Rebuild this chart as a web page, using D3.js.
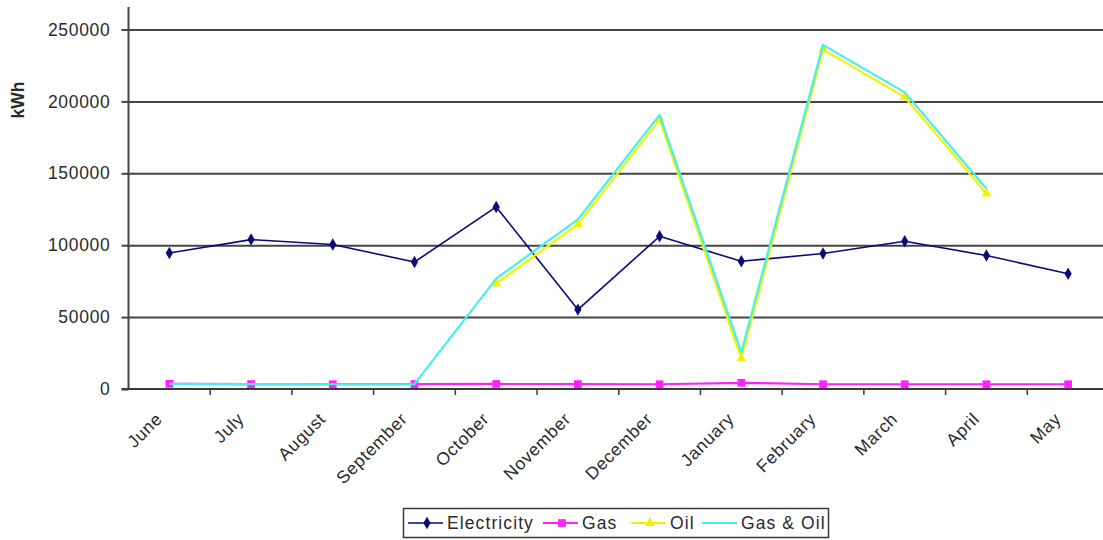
<!DOCTYPE html>
<html>
<head>
<meta charset="utf-8">
<script src="https://cdn.jsdelivr.net/npm/d3@7"></script>
<style>
  html, body { margin: 0; padding: 0; background: #fff; }
  svg { display: block; }
  text { font-family: "Liberation Sans", Arial, sans-serif; fill: #2a2a2a; }
</style>
</head>
<body>
<svg id="chart" width="1103" height="540"></svg>
<script>
// Monthly energy use, kWh
const months = ["June", "July", "August", "September", "October", "November",
                "December", "January", "February", "March", "April", "May"];
const electricity = [94600, 103900, 100500, 88300, 126600, 55200, 106200, 88800, 94200, 102700, 92800, 80200];
const gas = [3600, 3400, 3300, 3400, 3500, 3400, 3300, 4300, 3300, 3300, 3300, 3300];
const oil = [null, null, null, null, 73300, 114500, 187300, 21100, 236000, 203000, 135900, null];
const gasAndOil = [3600, 3400, 3300, 3400, 76800, 117900, 190600, 25400, 239300, 206300, 139200, null];
const yTicks = [0, 50000, 100000, 150000, 200000, 250000];
const seriesNames = ["Electricity", "Gas", "Oil", "Gas & Oil"];

const svg = d3.select("#chart");
const W = 1103;
const plotLeft = 128.5, plotRight = 1109, plotTop = 29.5, plotBottom = 389;
const FONT = 17.5;
const LS = 0.7;

const x = d3.scaleBand().domain(months).range([plotLeft, plotRight]).paddingInner(0).paddingOuter(0);
const cx = m => x(m) + x.bandwidth() / 2;
const y = d3.scaleLinear().domain([0, 250000]).range([plotBottom, plotTop]);

// horizontal gridlines
const grid = svg.append("g")
  .attr("transform", `translate(${plotLeft},0)`)
  .call(d3.axisLeft(y).tickValues(yTicks.filter(v => v > 0)).tickSize(-(W - plotLeft)).tickFormat(""));
grid.select(".domain").remove();
grid.selectAll("line").attr("stroke", "#444").attr("stroke-width", 2);

// y axis
const yAxis = svg.append("g")
  .attr("transform", `translate(${plotLeft},0)`)
  .call(d3.axisLeft(y).tickValues(yTicks).tickSize(7).tickPadding(11).tickFormat(d3.format("d")));
yAxis.select(".domain").remove();
yAxis.selectAll("line").attr("stroke", "#444").attr("stroke-width", 2);
yAxis.selectAll("text")
  .attr("font-size", FONT).attr("letter-spacing", LS).style("fill", "#2a2a2a");
svg.append("line")
  .attr("x1", plotLeft).attr("x2", plotLeft).attr("y1", 7).attr("y2", plotBottom)
  .attr("stroke", "#444").attr("stroke-width", 2);

// x axis line and tick marks at category boundaries
svg.append("line")
  .attr("x1", plotLeft - 7).attr("x2", W).attr("y1", plotBottom).attr("y2", plotBottom)
  .attr("stroke", "#3a3a3a").attr("stroke-width", 2);
svg.append("g").selectAll("line")
  .data(months.slice(1))
  .join("line")
  .attr("x1", d => x(d)).attr("x2", d => x(d))
  .attr("y1", plotBottom).attr("y2", plotBottom + 6)
  .attr("stroke", "#3a3a3a").attr("stroke-width", 1.5);

// rotated month labels
const xAxis = svg.append("g")
  .attr("transform", `translate(0,${plotBottom})`)
  .call(d3.axisBottom(x).tickSize(0).tickFormat(d => d));
xAxis.select(".domain").remove();
xAxis.selectAll("text")
  .attr("font-size", FONT).attr("letter-spacing", LS).style("fill", "#2a2a2a")
  .attr("text-anchor", "end")
  .attr("dy", null).attr("y", 0)
  .attr("transform", "translate(-6,31) rotate(-45)");

// y axis title
svg.append("text")
  .attr("transform", "translate(24,100) rotate(-90)")
  .attr("text-anchor", "middle")
  .attr("font-size", FONT).attr("font-weight", "bold")
  .text("kWh");

// series
const line = d3.line()
  .defined(d => d.v != null)
  .x(d => cx(d.m))
  .y(d => y(d.v));
const pts = arr => months.map((m, i) => ({ m, v: arr[i] }));

const diamond = d3.symbol().type(d3.symbolDiamond).size(45);
const square = d3.symbol().type(d3.symbolSquare).size(60);
const triangle = d3.symbol().type(d3.symbolTriangle).size(45);

const series = [
  { name: seriesNames[0], data: electricity, color: "#0a0a78", width: 1.6, symbol: diamond, slot: 408 },
  { name: seriesNames[1], data: gas, color: "#ff22ff", width: 2.2, symbol: square, slot: 543 },
  { name: seriesNames[2], data: oil, color: "#f2f200", width: 2.2, symbol: triangle, slot: 631 },
  { name: seriesNames[3], data: gasAndOil, color: "#44f0ec", width: 2.2, symbol: null, slot: 702 }
];

series.forEach(s => {
  const g = svg.append("g");
  g.append("path")
    .attr("d", line(pts(s.data)))
    .attr("fill", "none")
    .attr("stroke", s.color)
    .attr("stroke-width", s.width)
    .attr("stroke-linejoin", "round");
  if (s.symbol) {
    g.selectAll("path.mk")
      .data(pts(s.data).filter(d => d.v != null))
      .join("path")
      .attr("class", "mk")
      .attr("d", s.symbol)
      .attr("transform", d => `translate(${cx(d.m)},${y(d.v)})`)
      .attr("fill", s.color);
  }
});

// legend
const legend = svg.append("g");
legend.append("rect")
  .attr("x", 403.5).attr("y", 508.5).attr("width", 425).attr("height", 29)
  .attr("fill", "#fff").attr("stroke", "#3a3a3a").attr("stroke-width", 1.5);
const ly = 523;
series.forEach(s => {
  const lx = s.slot;
  legend.append("line")
    .attr("x1", lx).attr("x2", lx + 35).attr("y1", ly).attr("y2", ly)
    .attr("stroke", s.color).attr("stroke-width", s.width);
  if (s.symbol) {
    legend.append("path").attr("d", s.symbol)
      .attr("transform", `translate(${lx + 19},${ly})`)
      .attr("fill", s.color);
  }
  legend.append("text")
    .attr("x", lx + 39).attr("y", ly).attr("dy", "0.35em")
    .attr("font-size", FONT).attr("letter-spacing", 1.1)
    .text(s.name);
});
</script>
</body>
</html>
